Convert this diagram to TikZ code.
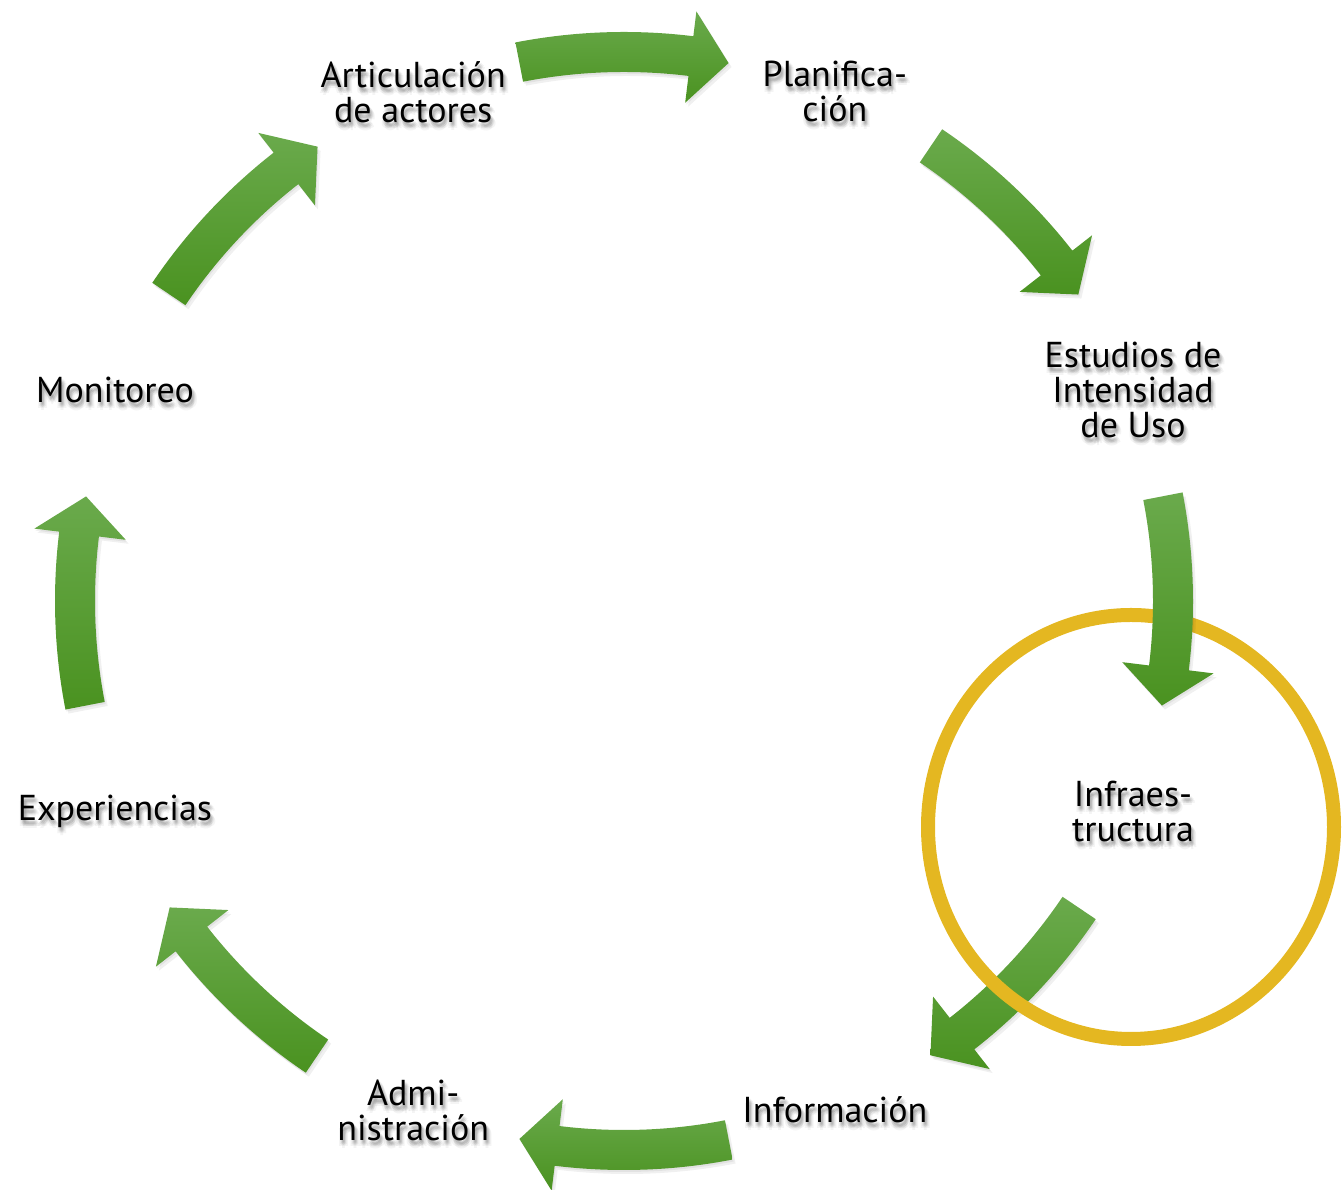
\documentclass[tikz,border=0pt]{standalone}
\usepackage{fontspec}
\setmainfont{PT Sans}
\usetikzlibrary{calc}
\definecolor{gtop}{HTML}{6AAA4C}
\definecolor{gbot}{HTML}{4A9220}
\definecolor{ringgold}{HTML}{E4B721}
\tikzset{
  blockarrow/.style={shade, top color=gtop, bottom color=gbot},
  arrowshadow/.style={fill=black, opacity=0.06},
  lbltext/.style={font=\fontsize{36}{35}\selectfont, align=center, inner sep=0pt, text=black},
  lblshadow/.style={lbltext, text=black, opacity=0.045},
  ring/.style={draw=ringgold, line width=14pt}
}
% #1 = centre angle of the arrow; it runs clockwise
\newcommand\arrowpath[1]{(#1+11:569) arc[start angle=#1+11, end angle=#1-7, radius=569]
  -- (#1-7:594) -- (#1-11:548) -- (#1-7:502) -- (#1-7:529)
  arc[start angle=#1-7, end angle=#1+11, radius=529] -- cycle}
\newcommand\cyclearrow[1]{%
  \fill[arrowshadow, shift={(1,-2)}] \arrowpath{#1};
  \fill[arrowshadow, shift={(3,-4)}] \arrowpath{#1};
  \path[blockarrow] \arrowpath{#1};
}
% #1 angle, #2 name, #3 text
\newcommand\cyclelabel[3]{%
  \foreach \dx/\dy in {1/-3,3/-3,2/-2,2/-4,1/-5,3/-5,4/-4,0/-4,2/-6,5/-6,-1/-6,2/-8}
    \node[lblshadow] at ($(#1:551)+(\dx,\dy)$) {#3};
  \node[lbltext] (#2) at (#1:551) {#3};
}
\begin{document}
\begin{tikzpicture}[x=1pt,y=1pt]
\useasboundingbox (0,0) rectangle (1342,1190);
\coordinate (C) at (624,589);
\begin{scope}[shift={(C)}]
  \cyclearrow{90}
  \cyclearrow{45}
  \cyclearrow{-45}
  \cyclearrow{-90}
  \cyclearrow{-135}
  \cyclearrow{180}
  \cyclearrow{135}
\end{scope}
\draw[ring] (1131,363) ellipse[x radius=203, y radius=212];
\begin{scope}[shift={(C)}]
  \cyclearrow{0}
  \cyclelabel{112.5}{art}{Articulación\\de actores}
  \cyclelabel{67.5}{plan}{Planifica-\\ción}
  \cyclelabel{22.5}{est}{Estudios de\\Intensidad\\de Uso}
  \cyclelabel{-22.5}{infra}{Infraes-\\tructura}
  \cyclelabel{-67.5}{info}{Información}
  \cyclelabel{-112.5}{adm}{Admi-\\nistración}
  \cyclelabel{-157.5}{exp}{Experiencias}
  \cyclelabel{157.5}{mon}{Monitoreo}
\end{scope}
\end{tikzpicture}
\end{document}
